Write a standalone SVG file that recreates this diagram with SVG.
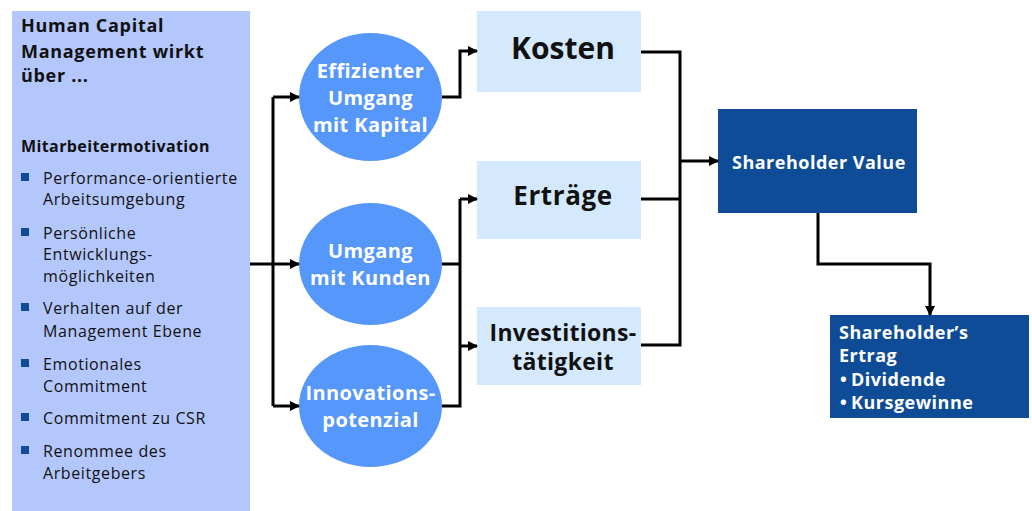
<svg xmlns="http://www.w3.org/2000/svg" width="1032" height="511" viewBox="0 0 1032 511">
<defs>
<style>
text{font-family:"Open Sans","Noto Sans","DejaVu Sans",sans-serif;}
.lt{font-size:16px;letter-spacing:0.6px;fill:#111;}
.mt{font-size:16px;font-weight:bold;letter-spacing:0.4px;fill:#111;}
.hd{font-size:18px;font-weight:bold;letter-spacing:0.7px;fill:#111;}
.ct{font-size:20px;font-weight:bold;letter-spacing:0.4px;fill:#fff;text-anchor:middle;}
.bx{font-weight:bold;fill:#111;text-anchor:middle;}
.wt{font-size:18px;font-weight:bold;letter-spacing:0.5px;fill:#fff;}
.sq{fill:#104c97;}
.con{fill:none;stroke:#000;stroke-width:3;}
</style>
<marker id="ah" markerWidth="10" markerHeight="10" refX="9" refY="5" orient="auto" markerUnits="userSpaceOnUse">
<path d="M0,0 L10,5 L0,10 Z" fill="#000"/>
</marker>
</defs>
<rect width="1032" height="511" fill="#fff"/>

<g id="left">
<rect x="12" y="11" width="238" height="500" fill="#b4c7fc"/>
<text class="hd" x="21" y="32">Human Capital</text>
<text class="hd" x="21" y="58">Management wirkt</text>
<text class="hd" x="21" y="82">über ...</text>
<text class="mt" x="21" y="152">Mitarbeitermotivation</text>
<rect class="sq" x="21" y="173" width="8" height="8"/>
<text class="lt" x="43" y="184">Performance-orientierte</text>
<text class="lt" x="43" y="205">Arbeitsumgebung</text>
<rect class="sq" x="21" y="228" width="8" height="8"/>
<text class="lt" x="43" y="239">Persönliche</text>
<text class="lt" x="43" y="260">Entwicklungs-</text>
<text class="lt" x="43" y="282">möglichkeiten</text>
<rect class="sq" x="21" y="303" width="8" height="8"/>
<text class="lt" x="43" y="314">Verhalten auf der</text>
<text class="lt" x="43" y="337">Management Ebene</text>
<rect class="sq" x="21" y="359" width="8" height="8"/>
<text class="lt" x="43" y="370">Emotionales</text>
<text class="lt" x="43" y="392">Commitment</text>
<rect class="sq" x="21" y="413" width="8" height="8"/>
<text class="lt" x="43" y="424">Commitment zu CSR</text>
<rect class="sq" x="21" y="446" width="8" height="8"/>
<text class="lt" x="43" y="457">Renommee des</text>
<text class="lt" x="43" y="479">Arbeitgebers</text>
</g>

<g id="e1">
<ellipse cx="370.5" cy="97" rx="71.5" ry="64" fill="#5597fa"/>
<text class="ct" x="370.5" y="78">Effizienter</text>
<text class="ct" x="370.5" y="105">Umgang</text>
<text class="ct" x="370.5" y="132">mit Kapital</text>
</g>
<g id="e2">
<ellipse cx="370.5" cy="264" rx="71.5" ry="61" fill="#5597fa"/>
<text class="ct" x="370.5" y="258">Umgang</text>
<text class="ct" x="370.5" y="285">mit Kunden</text>
</g>
<g id="e3">
<ellipse cx="370.5" cy="406" rx="71.5" ry="61" fill="#5597fa"/>
<text class="ct" x="370.5" y="400">Innovations-</text>
<text class="ct" x="370.5" y="427">potenzial</text>
</g>

<g id="kosten">
<rect x="477" y="11" width="164" height="81" fill="#d4e9fd"/>
<text class="bx" x="563" y="59" font-size="30">Kosten</text>
</g>
<g id="ertraege">
<rect x="477" y="161" width="164" height="78" fill="#d4e9fd"/>
<text class="bx" x="563" y="205" font-size="26" letter-spacing="0.6">Erträge</text>
</g>
<g id="invest">
<rect x="477" y="307" width="164" height="78" fill="#d4e9fd"/>
<text class="bx" x="563" y="341" font-size="23" letter-spacing="0.3">Investitions-</text>
<text class="bx" x="563" y="370" font-size="23" letter-spacing="0.3">tätigkeit</text>
</g>

<g id="sv">
<rect x="718" y="109" width="199" height="104" fill="#0f4c97"/>
<text class="wt" x="732" y="169">Shareholder Value</text>
</g>
<g id="se">
<rect x="830" y="315" width="199" height="103" fill="#0f4c97"/>
<text class="wt" x="839" y="339">Shareholder’s</text>
<text class="wt" x="839" y="362">Ertrag</text>
<text class="wt" x="840" y="386">•</text>
<text class="wt" x="851" y="386">Dividende</text>
<text class="wt" x="840" y="409">•</text>
<text class="wt" x="851" y="409">Kursgewinne</text>
</g>

<g id="connectors">
<path class="con" d="M250,264 H273"/>
<path class="con" d="M273,97 V406"/>
<path class="con" d="M273,97 H299" marker-end="url(#ah)"/>
<path class="con" d="M273,264 H299" marker-end="url(#ah)"/>
<path class="con" d="M273,406 H299" marker-end="url(#ah)"/>
<path class="con" d="M442,97 H460 V51 H477" marker-end="url(#ah)"/>
<path class="con" d="M442,264 H460"/>
<path class="con" d="M442,406 H460 V199"/>
<path class="con" d="M460,199 H477" marker-end="url(#ah)"/>
<path class="con" d="M460,346 H477" marker-end="url(#ah)"/>
<path class="con" d="M641,52 H680 V345 H641"/>
<path class="con" d="M641,199 H680"/>
<path class="con" d="M680,161 H718" marker-end="url(#ah)"/>
<path class="con" d="M818,213 V264 H930 V315" marker-end="url(#ah)"/>
</g>
</svg>
